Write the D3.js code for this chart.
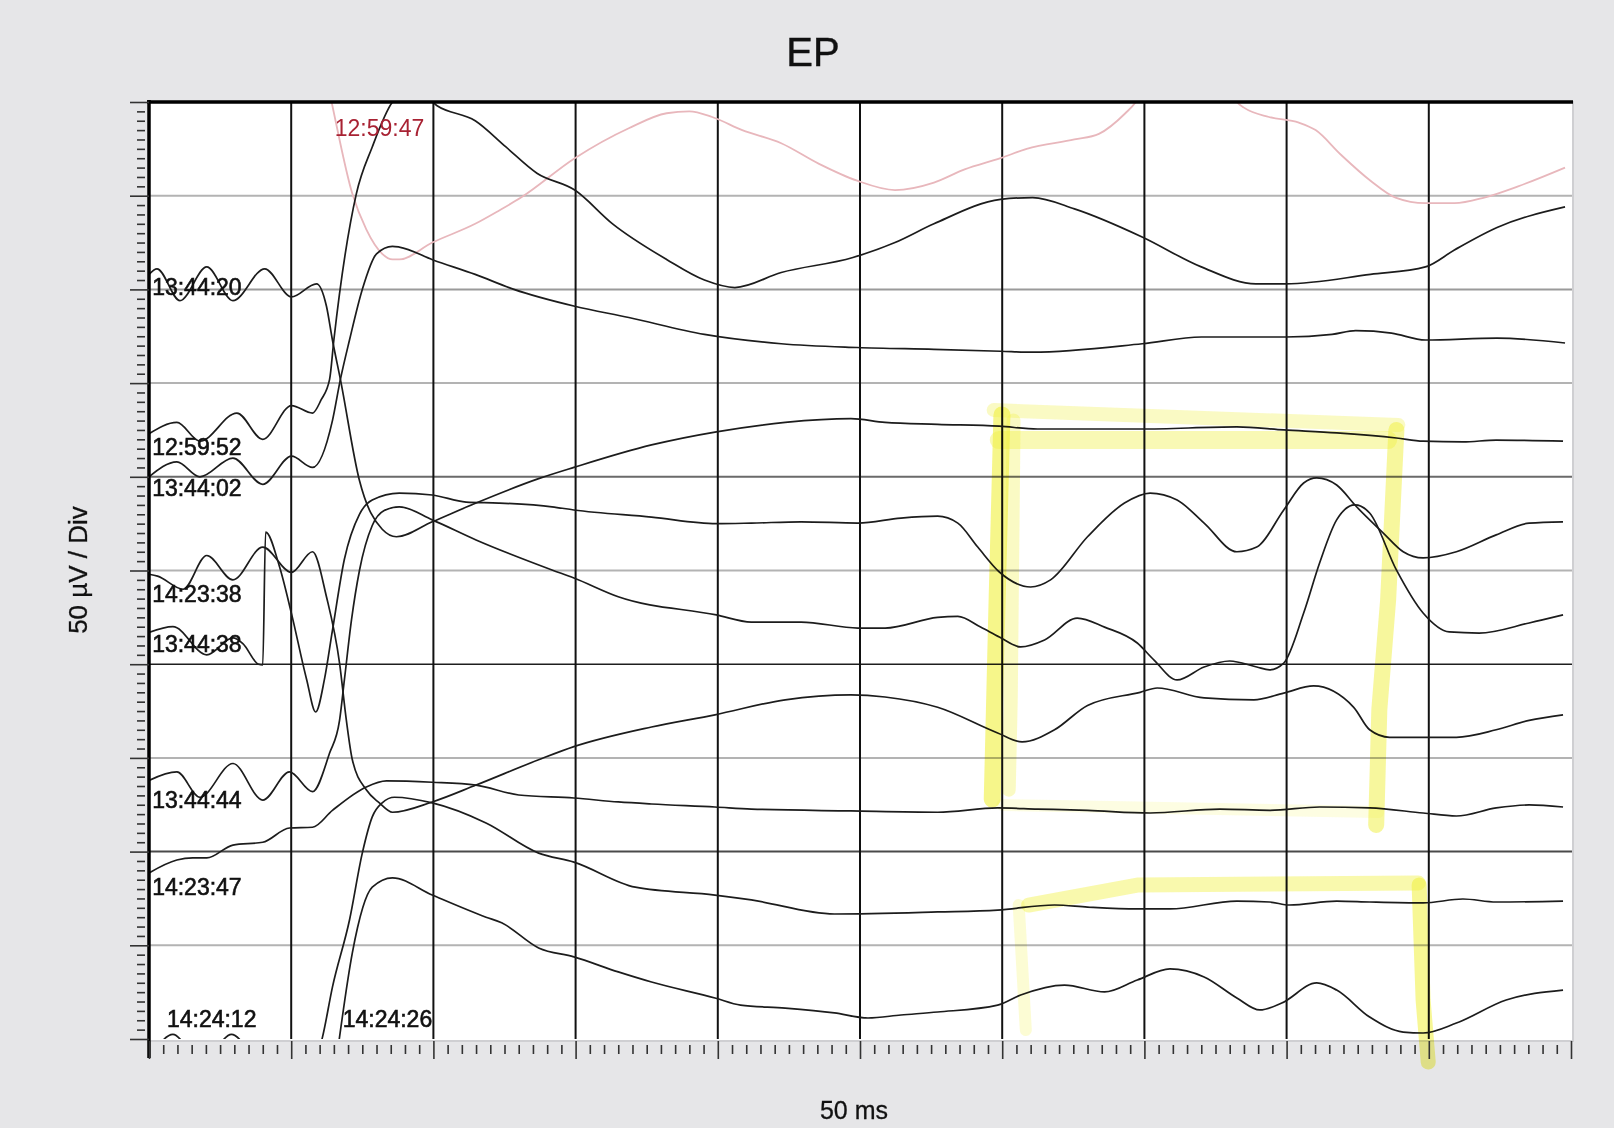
<!DOCTYPE html>
<html><head><meta charset="utf-8">
<script src="https://cdn.jsdelivr.net/npm/d3@7"></script>
<style>
html,body{margin:0;padding:0;background:#e6e6e8;}
svg{display:block;}
text{font-family:"Liberation Sans",Arial,sans-serif;}
</style></head><body>
<svg id="chart" width="1614" height="1128"></svg>
<script>
// ---------- DATA (x in ms, y in µV; 50 ms / div, 50 µV / div) ----------
const xDomain = [0, 500];
const yDomain = [0, 500];
const xMajorTicks = d3.range(0, 501, 50);
const xMinorTicks = d3.range(0, 501, 5);
const yMajorTicks = d3.range(0, 501, 50);
const yMinorTicks = d3.range(0, 501, 5);

const tr125947 = [[62.5,512],[64.2,500],[71.5,451],[76.4,432],[82,419],[85.6,416],[88,416],[99.6,425],[114.7,435],[123,442],[130.8,449],[149.7,470],[168.7,486],[182,494],[190,495],[198,492],[208.6,485],[222.3,478],[235.6,467],[249,458],[262.3,453],[276,457],[286.8,464],[299.4,470],[308.6,475],[325.4,480],[334,483],[343.3,494],[347,500],[352,514],[378,514],[382.5,500],[385,497],[393.8,492],[404.3,489],[410.2,485],[419,472],[429.5,458],[438.3,449],[448.8,446],[459,446],[469.5,449],[481.4,455],[497.9,465]];
const tr125952 = [[0,323],[9.8,329],[17.9,319],[30.9,334],[40,320],[50.1,338],[57.5,334],[60.5,341],[63.5,352],[65,373],[72.9,451],[78.5,476],[85.6,500],[93.5,508],[101.3,498],[114.7,490],[125.5,476],[136.4,462],[149.7,453],[163,435],[182,416],[195.3,405],[206,401],[222.3,409],[247.5,417],[262.3,425],[276,435],[299.4,448],[310.7,449],[325.4,443],[349.2,428],[370,412],[389.2,403],[399.7,403],[429.5,408],[448.8,412],[459,421],[474,433],[497.9,444]];
const tr134402 = [[0,300],[9.8,308],[17.9,300],[29.5,310],[40,296],[50.1,311],[57.5,305],[64.5,330],[67.3,352],[70.5,373],[75,400],[80,419],[85.6,423],[88,422.6],[99.9,415.7],[114.7,408],[128.3,400],[149.7,391],[168.7,385],[195.3,376],[222.3,371],[249,369],[276,368],[299.4,367],[310.7,366.5],[349.2,371],[370,374.6],[399.7,374.6],[416,376],[424.3,378],[436.9,376.7],[448.8,373],[474,374],[497.9,371.4]];
const tr134420 = [[0,408],[2.8,411],[10.9,394],[20.3,412],[29.5,394],[40.7,411],[50.1,396],[58.9,403],[62.4,391],[64.5,373],[67.3,352],[74,298],[82,272],[87,268],[99.6,276],[115,286],[137,299],[149.4,305],[176.7,317],[199.5,324],[223.7,329],[246.8,331],[258.8,329],[277.3,328],[299,327],[312.4,325.5],[348.5,325.5],[382.5,326.6],[399,325],[417.6,323.4],[438.6,320.7],[448,319],[462,318.6],[473.7,319.6],[497.2,319]];
const tr142338 = [[0,248],[3,247],[12,240],[20.3,258],[29.5,245],[40,262.5],[50.1,249],[57.5,260],[62.4,236],[67,200.6],[69.4,170],[71.5,149],[76.4,133],[81,126],[85.6,121],[99.6,126.5],[115,135.5],[137,149],[149.4,156],[176.7,166.5],[199,173],[223.7,181],[246.8,183.6],[258.8,182.5],[277.3,177],[298.4,163.3],[307,158.5],[318.4,165],[330,178],[348.5,185],[354.5,187.3],[371,182],[388.5,181],[399,184.6],[409.5,188.4],[423.6,177],[429.2,165],[436.2,161],[448,161],[459.7,161],[473.7,165],[485.3,170],[497.2,173]];
const tr134438 = [[0,217],[8.4,220],[20.3,205],[29.5,214],[33,211],[38.5,200],[40,199.6],[41,270.5],[45.9,252],[50.1,227],[55.4,192],[58.6,174.5],[61.7,192],[64.5,218],[68.7,256],[74,280],[78.5,287.6],[88,291.3],[99.6,290.3],[111.5,286.5],[123,286],[141.7,284],[149.4,282.3],[176.7,278.5],[199.5,275],[211.8,275.3],[229.3,276],[249.3,275.3],[264.4,278],[277.3,279],[284.4,275.3],[291.4,262.5],[299,249.2],[310,241.2],[317,245],[330,268],[343,286],[352,291.3],[361.5,287.6],[371,275.3],[382.5,260],[389.5,262.5],[399,282.3],[406,296.7],[410.6,299.4],[417.6,295.6],[424.6,284],[434,270],[441,260],[448,256.7],[459.7,260],[473.7,269],[485.3,275.3],[497.2,276]];
const tr134444 = [[0,138],[9.8,142.5],[17.9,129],[29.5,147],[40,127.5],[49.4,142.5],[57.5,132],[63.5,152.6],[67,170],[68.7,191.6],[71.2,223.6],[74,250],[78.5,274],[82.7,282],[88,284],[99.6,277],[115,266.3],[141.7,250.3],[149.4,246],[165,236],[199.5,226.3],[211.8,222.5],[229.3,222.5],[249.3,219.3],[258.8,219.3],[277.3,225],[284.4,225.5],[292.4,219.8],[299,214.5],[306.5,209.2],[314.9,212.9],[326.4,224.6],[336,219.8],[347.5,211.3],[353.4,202.2],[361.5,191.6],[371,198.5],[380,201.7],[389.5,198.5],[394,197],[399,200.6],[406,227.3],[411.6,254],[417.6,277],[424,285],[429.2,280.7],[438.6,250.3],[448,227.3],[457.2,217.2],[467.7,216.6],[485.3,222],[497.2,226.3]];
const tr142347 = [[0,88.6],[9.8,95.5],[15.4,96.6],[20.3,96.6],[29.5,103.5],[40,105],[49.4,112.6],[57.5,113],[64.5,122],[76.4,134.5],[83.5,137.7],[99.6,137],[115,135.5],[130,130.2],[149.4,128.6],[165,126.5],[176.7,125.4],[199,123.8],[211.8,122.7],[246.8,121.7],[277.3,121],[298.4,123.3],[312.4,122.7],[330,122],[352,120.6],[376.6,122.7],[394,122],[411.6,123.8],[429.2,123.3],[448,120.6],[459.7,119],[473.7,123.3],[485.3,124.9],[497.2,123.8]];
const tr142412 = [[0,-12],[8.4,2.5],[18.5,-14],[29,2.5],[40,-14],[50,-5],[58,-14],[61,1],[64.5,27.7],[70.5,63.5],[75,99.2],[78.5,118.5],[82,126],[86.3,129],[99.6,126],[118.5,115.3],[137,99.2],[149.4,94.4],[171,81],[199,76.8],[211.8,74.2],[241,66.7],[277.3,67.8],[298.4,68.8],[318.4,71.5],[330,70.4],[347.5,69.4],[359,69.4],[382.5,73.6],[394,73.1],[401,71.5],[417.6,73.6],[429.2,73.1],[448,72.6],[462,74.7],[473.7,73.1],[497.2,73.6]];
const tr142426 = [[62,-60],[67,1],[71.5,46],[78.5,81],[85.6,86],[99.6,76.8],[118.5,65],[124,62],[137,48.6],[149.4,43.8],[165,35.8],[176.7,30.4],[199,21.9],[208,18.1],[223.7,16.5],[241,13.9],[252.8,11.2],[264.4,12.8],[277.3,14.4],[298.4,18.1],[306.5,23.5],[321.9,28.8],[336,25.1],[347.5,31.5],[359,37.4],[371,33.1],[382.5,21.9],[390.6,15.5],[398.3,19.2],[410.6,29.9],[417.6,26.1],[429.2,11.7],[441,3.7],[448,3.2],[459.7,8.5],[477.2,20.8],[497.2,26.1]];

const traceNames  = ["12:59:47","12:59:52","13:44:02","13:44:20","14:23:38","13:44:38","13:44:44","14:23:47","14:24:12","14:24:26"];
const traceValues = [tr125947, tr125952, tr134402, tr134420, tr142338, tr134438, tr134444, tr142347, tr142412, tr142426];

// label anchors [ms, µV] (text baseline start)
const labelText = ["12:59:47","13:44:20","12:59:52","13:44:02","14:23:38","13:44:38","13:44:44","14:23:47","14:24:12","14:24:26"];
const labelAnchor = [[65.3,482],[1.1,397],[1.1,311.5],[1.1,290],[1.1,233],[1.1,206.5],[1.1,123.3],[1.1,77],[6.3,6.4],[68.1,6.4]];

// hand-drawn highlighter strokes [ms, µV]
const hl1Left   = [[299.9,333],[298.2,234],[296.5,128]];
const hl1Left2  = [[304,330],[303,181],[302.3,133]];
const hl1Top    = [[297,335.6],[439.3,327.6]];
const hl1Top2   = [[298.8,319.6],[435.7,319.6]];
const hl1Right  = [[438.6,325],[435.7,234.3],[432.6,175.6],[431.5,114.2]];
const hl1Bottom = [[300,124.9],[432.2,121.1]];
const hl2Top    = [[309.3,71.5],[348,82.2],[446.3,83.2]];
const hl2Right  = [[446.6,82.2],[448,20.8],[449.8,-12.3]];
const hl2Left   = [[305.8,71.5],[308.3,4.8]];

// ---------- DRAWING ----------
const svg = d3.select("#chart");
const W = 1614, H = 1128;
const L = 149, R = 1571, T = 102, B = 1039;
const x = d3.scaleLinear().domain(xDomain).range([L, R]);
const y = d3.scaleLinear().domain(yDomain).range([B, T]);

svg.append("rect").attr("width", W).attr("height", H).attr("fill", "#e6e6e8");
svg.append("rect").attr("x", L).attr("y", T).attr("width", R - L + 2).attr("height", B - T + 2)
  .attr("fill", "#ffffff").attr("stroke", "#cfcfd2").attr("stroke-width", 2);

svg.append("defs").append("clipPath").attr("id", "plotclip")
  .append("rect").attr("x", L).attr("y", T).attr("width", R - L + 2).attr("height", B - T);

// horizontal grid
const gridColor = v => v === 200 ? "#1e1e1e" : v === 100 ? "#4a4a4a" : v === 300 ? "#6a6a6a" : v === 400 ? "#9a9a9a" : "#b3b3b3";
svg.append("g").selectAll("line").data(yMajorTicks.filter(v => v > 0 && v < 500)).join("line")
  .attr("x1", L).attr("x2", R + 1).attr("y1", d => y(d)).attr("y2", d => y(d))
  .attr("stroke", d => gridColor(d)).attr("stroke-width", d => d === 200 ? 1.6 : 2);

// vertical grid
svg.append("g").selectAll("line").data(xMajorTicks.filter(v => v > 0 && v < 500)).join("line")
  .attr("x1", d => x(d)).attr("x2", d => x(d)).attr("y1", T).attr("y2", B)
  .attr("stroke", "#111").attr("stroke-width", 2);

// traces
const line = d3.line().x(d => x(d[0])).y(d => y(d[1])).curve(d3.curveMonotoneX);
const tg = svg.append("g").attr("clip-path", "url(#plotclip)");
tg.selectAll("path").data(traceValues).join("path")
  .attr("d", d => line(d))
  .attr("fill", "none")
  .attr("stroke", (d, i) => traceNames[i] === "12:59:47" ? "#e8b7bc" : "#1c1c1c")
  .attr("stroke-width", (d, i) => traceNames[i] === "12:59:47" ? 1.8 : 1.7)
  .attr("stroke-linejoin", "round");

// labels
svg.append("g").selectAll("text").data(labelText).join("text")
  .attr("x", (d, i) => x(labelAnchor[i][0]))
  .attr("y", (d, i) => y(labelAnchor[i][1]))
  .attr("font-size", 23)
  .attr("fill", d => d === "12:59:47" ? "#a82233" : "#111")
  .attr("stroke", d => d === "12:59:47" ? "none" : "#111")
  .attr("stroke-width", 0.6)
  .text(d => d);

// highlighter
const hl = d3.line().x(d => x(d[0])).y(d => y(d[1])).curve(d3.curveLinear);
const hlg = svg.append("g").style("mix-blend-mode", "multiply");
const strokes = [
  [hl1Left, 17, 0.6], [hl1Left2, 14, 0.3], [hl1Top, 14, 0.3], [hl1Top2, 18, 0.38],
  [hl1Right, 16, 0.5], [hl1Bottom, 12, 0.15], [hl2Top, 15, 0.42], [hl2Right, 15, 0.55], [hl2Left, 12, 0.22]
];
hlg.selectAll("path").data(strokes).join("path")
  .attr("d", d => hl(d[0])).attr("fill", "none")
  .attr("stroke", "#f0f03c").attr("stroke-width", d => d[1]).attr("stroke-opacity", d => d[2])
  .attr("stroke-linecap", "round").attr("stroke-linejoin", "round");

// borders
svg.append("line").attr("x1", L - 2).attr("x2", R + 2).attr("y1", T).attr("y2", T).attr("stroke", "#000").attr("stroke-width", 3.5);
svg.append("line").attr("x1", L).attr("x2", L).attr("y1", T - 2).attr("y2", B + 19).attr("stroke", "#000").attr("stroke-width", 3.5);

// axes ticks
const yMinorAxis = d3.axisLeft(y).tickValues(yMinorTicks.filter(v => v % 50 !== 0)).tickSize(8).tickFormat("");
const yMajorAxis = d3.axisLeft(y).tickValues(yMajorTicks).tickSize(19).tickFormat("");
const xMinorAxis = d3.axisBottom(x).tickValues(xMinorTicks.filter(v => v % 50 !== 0)).tickSize(9).tickFormat("");
const xMajorAxis = d3.axisBottom(x).tickValues(xMajorTicks).tickSize(18).tickFormat("");
function styleAxis(g) { g.select(".domain").remove(); g.selectAll("line").attr("stroke", "#333").attr("stroke-width", 1.6); }
svg.append("g").attr("transform", `translate(${L - 4},0)`).call(yMinorAxis).call(styleAxis);
svg.append("g").attr("transform", `translate(${L},0)`).call(yMajorAxis).call(styleAxis);
svg.append("g").attr("transform", `translate(0,${B + 6})`).call(xMinorAxis).call(styleAxis);
svg.append("g").attr("transform", `translate(0,${B + 2})`).call(xMajorAxis).call(styleAxis);

// titles
svg.append("text").attr("x", 813).attr("y", 66).attr("text-anchor", "middle").attr("font-size", 40).attr("fill", "#111")
  .attr("stroke", "#111").attr("stroke-width", 0.4).text("EP");
svg.append("text").attr("transform", "translate(87,570) rotate(-90)").attr("text-anchor", "middle").attr("font-size", 26).attr("fill", "#111")
  .attr("stroke", "#111").attr("stroke-width", 0.3).text("50 µV / Div");
svg.append("text").attr("x", 854).attr("y", 1119).attr("text-anchor", "middle").attr("font-size", 25).attr("fill", "#111")
  .attr("stroke", "#111").attr("stroke-width", 0.3).text("50 ms");
</script>
</body></html>
